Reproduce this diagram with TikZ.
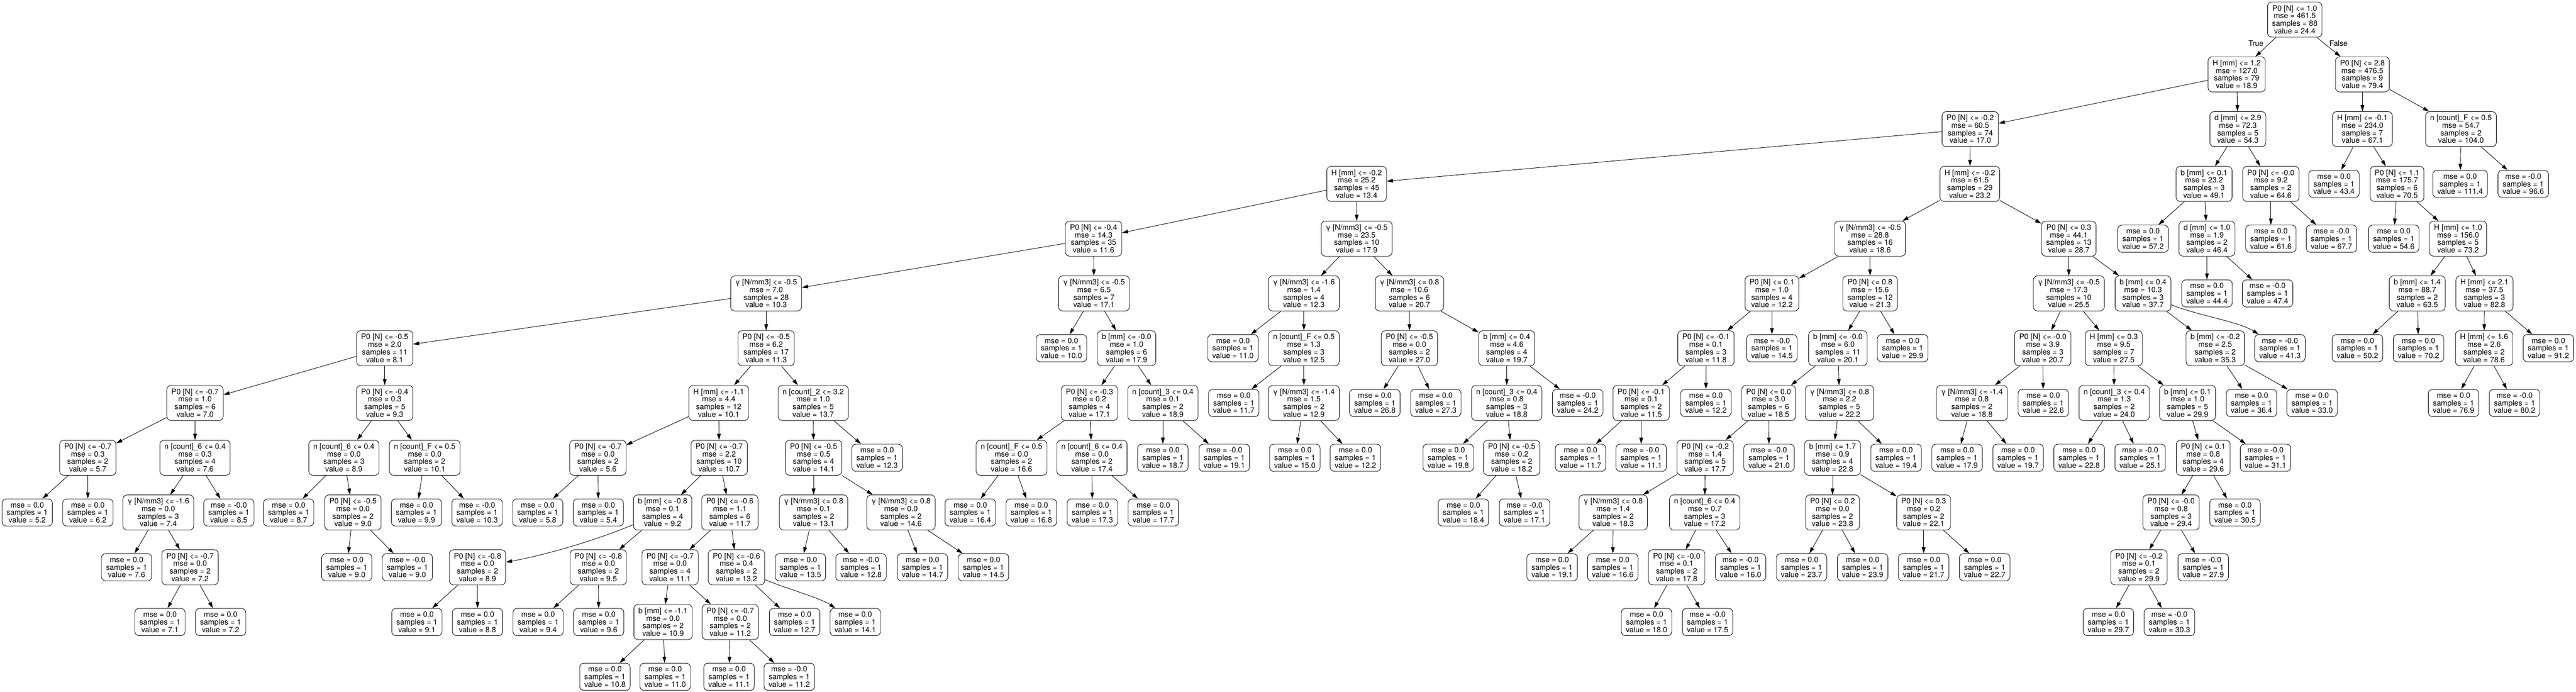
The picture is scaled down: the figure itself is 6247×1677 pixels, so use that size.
\documentclass[tikz,border=0pt]{standalone}
\usepackage{fontspec}
\setmainfont{TeX Gyre Heros}
\usetikzlibrary{arrows.meta}
\newcommand\mkint[7]{\node[intn] (#1) at (#2,#3) {#4\\mse = #5\\samples = #6\\value = #7};}
\newcommand\mkleaf[5]{\node[leafn] (#1) at (#2,#3) {mse = #4\\samples = 1\\value = #5};}
\begin{document}
\begin{tikzpicture}[x=1pt,y=-1pt,
  boxbase/.style={draw, line width=1.1pt, rounded corners=10pt, fill=white, align=center,
    inner xsep=11pt, inner ysep=0pt, font=\fontsize{18.4}{18.4}\selectfont},
  intn/.style={boxbase, minimum height=85pt},
  leafn/.style={boxbase, minimum height=66pt},
  edge/.style={-{Triangle[length=15pt,width=9pt]}, line width=1.1pt},
  lbl/.style={font=\fontsize{18.4}{18.4}\selectfont, inner sep=0pt}]
\useasboundingbox (0,0) rectangle (6247,1677);
% level 0
\mkint{n0}{5565}{47.5}{P0 [N] <= 1.0}{461.5}{88}{24.4}
% level 1
\mkint{n1}{5424}{180.3}{H [mm] <= 1.2}{127.0}{79}{18.9}
\mkint{n2}{5729}{180.3}{P0 [N] <= 2.8}{476.5}{9}{79.4}
% level 2
\mkint{n3}{4778}{313.1}{P0 [N] <= -0.2}{60.5}{74}{17.0}
\mkint{n4}{5427}{313.1}{d [mm] <= 2.9}{72.3}{5}{54.3}
\mkint{n5}{5729}{313.1}{H [mm] <= -0.1}{234.0}{7}{67.1}
\mkint{n6}{5968}{313.1}{n [count]\_F <= 0.5}{54.7}{2}{104.0}
% level 3
\mkint{a3a}{3290}{445.9}{H [mm] <= -0.2}{25.2}{45}{13.4}
\mkint{a3b}{4777}{445.9}{H [mm] <= -0.2}{61.5}{29}{23.2}
\mkint{a3c}{5345}{445.9}{b [mm] <= 0.1}{23.2}{3}{49.1}
\mkint{a3d}{5507}{445.9}{P0 [N] <= -0.0}{9.2}{2}{64.6}
\mkleaf{a3e}{5660}{445.9}{0.0}{43.4}
\mkint{a3f}{5813}{445.9}{P0 [N] <= 1.1}{175.7}{6}{70.5}
\mkleaf{a3g}{5966}{445.9}{0.0}{111.4}
\mkleaf{a3h}{6119}{445.9}{-0.0}{96.6}
% level 4
\mkint{b4a}{2652}{578.7}{P0 [N] <= -0.4}{14.3}{35}{11.6}
\mkint{b4b}{3290}{578.7}{γ [N/mm3] <= -0.5}{23.5}{10}{17.9}
\mkint{b4c}{4535}{578.7}{γ [N/mm3] <= -0.5}{28.8}{16}{18.6}
\mkint{b4d}{5017}{578.7}{P0 [N] <= 0.3}{44.1}{13}{28.7}
\mkleaf{b4e}{5197}{578.7}{0.0}{57.2}
\mkint{b4f}{5352}{578.7}{d [mm] <= 1.0}{1.9}{2}{46.4}
\mkleaf{b4g}{5507}{578.7}{0.0}{61.6}
\mkleaf{b4h}{5654}{578.7}{-0.0}{67.7}
\mkleaf{b4i}{5805}{578.7}{0.0}{54.6}
\mkint{b4j}{5961}{578.7}{H [mm] <= 1.0}{156.0}{5}{73.2}
% level 5
\mkint{c5a}{1858}{711.5}{γ [N/mm3] <= -0.5}{7.0}{28}{10.3}
\mkint{c5b}{2653}{711.5}{γ [N/mm3] <= -0.5}{6.5}{7}{17.1}
\mkint{c5c}{3162}{711.5}{γ [N/mm3] <= -1.6}{1.4}{4}{12.3}
\mkint{c5d}{3418}{711.5}{γ [N/mm3] <= 0.8}{10.6}{6}{20.7}
\mkint{c5e}{4297}{711.5}{P0 [N] <= 0.1}{1.0}{4}{12.2}
\mkint{c5f}{4535}{711.5}{P0 [N] <= 0.8}{15.6}{12}{21.3}
\mkint{c5g}{5017}{711.5}{γ [N/mm3] <= -0.5}{17.3}{10}{25.5}
\mkint{c5h}{5197}{711.5}{b [mm] <= 0.4}{10.3}{3}{37.7}
\mkleaf{c5i}{5352}{711.5}{0.0}{44.4}
\mkleaf{c5j}{5499}{711.5}{-0.0}{47.4}
\mkint{c5k}{5862}{711.5}{b [mm] <= 1.4}{88.7}{2}{63.5}
\mkint{c5l}{6025}{711.5}{H [mm] <= 2.1}{37.5}{3}{82.8}
% level 6
\mkint{d6a}{933}{844.3}{P0 [N] <= -0.5}{2.0}{11}{8.1}
\mkint{d6b}{1858}{844.3}{P0 [N] <= -0.5}{6.2}{17}{11.3}
\mkleaf{d6c}{2574}{844.3}{0.0}{10.0}
\mkint{d6d}{2732}{844.3}{b [mm] <= -0.0}{1.0}{6}{17.9}
\mkleaf{d6e}{2990}{844.3}{0.0}{11.0}
\mkint{d6f}{3162}{844.3}{n [count]\_F <= 0.5}{1.3}{3}{12.5}
\mkint{d6g}{3418}{844.3}{P0 [N] <= -0.5}{0.0}{2}{27.0}
\mkint{d6h}{3654}{844.3}{b [mm] <= 0.4}{4.6}{4}{19.7}
\mkint{d6i}{4137}{844.3}{P0 [N] <= -0.1}{0.1}{3}{11.8}
\mkleaf{d6j}{4297}{844.3}{-0.0}{14.5}
\mkint{d6k}{4457}{844.3}{b [mm] <= -0.0}{6.0}{11}{20.1}
\mkleaf{d6l}{4614}{844.3}{0.0}{29.9}
\mkint{d6m}{4954}{844.3}{P0 [N] <= -0.0}{3.9}{3}{20.7}
\mkint{d6n}{5126}{844.3}{H [mm] <= 0.3}{9.5}{7}{27.5}
\mkint{d6o}{5372}{844.3}{b [mm] <= -0.2}{2.5}{2}{35.3}
\mkleaf{d6p}{5529}{844.3}{-0.0}{41.3}
\mkleaf{d6q}{5717}{844.3}{0.0}{50.2}
\mkleaf{d6r}{5865}{844.3}{0.0}{70.2}
\mkint{d6s}{6024}{844.3}{H [mm] <= 1.6}{2.6}{2}{78.6}
\mkleaf{d6t}{6180}{844.3}{0.0}{91.2}
% level 7
\mkint{e7a}{473}{977.1}{P0 [N] <= -0.7}{1.0}{6}{7.0}
\mkint{e7b}{933}{977.1}{P0 [N] <= -0.4}{0.3}{5}{9.3}
\mkint{e7c}{1743}{977.1}{H [mm] <= -1.1}{4.4}{12}{10.1}
\mkint{e7d}{1972}{977.1}{n [count]\_2 <= 3.2}{1.0}{5}{13.7}
\mkint{e7e}{2642}{977.1}{P0 [N] <= -0.3}{0.2}{4}{17.1}
\mkint{e7f}{2820}{977.1}{n [count]\_3 <= 0.4}{0.1}{2}{18.9}
\mkleaf{e7g}{2992}{977.1}{0.0}{11.7}
\mkint{e7h}{3162}{977.1}{γ [N/mm3] <= -1.4}{1.5}{2}{12.9}
\mkleaf{e7i}{3334}{977.1}{0.0}{26.8}
\mkleaf{e7j}{3482}{977.1}{0.0}{27.3}
\mkint{e7k}{3654}{977.1}{n [count]\_3 <= 0.4}{0.8}{3}{18.8}
\mkleaf{e7l}{3826}{977.1}{-0.0}{24.2}
\mkint{e7m}{3980}{977.1}{P0 [N] <= -0.1}{0.1}{2}{11.5}
\mkleaf{e7n}{4137}{977.1}{0.0}{12.2}
\mkint{e7o}{4289}{977.1}{P0 [N] <= 0.0}{3.0}{6}{18.5}
\mkint{e7p}{4461}{977.1}{γ [N/mm3] <= 0.8}{2.2}{5}{22.2}
\mkint{e7q}{4782}{977.1}{γ [N/mm3] <= -1.4}{0.8}{2}{18.8}
\mkleaf{e7r}{4955}{977.1}{0.0}{22.6}
\mkint{e7s}{5127}{977.1}{n [count]\_3 <= 0.4}{1.3}{2}{24.0}
\mkint{e7t}{5305}{977.1}{b [mm] <= 0.1}{1.0}{5}{29.9}
\mkleaf{e7u}{5460}{977.1}{0.0}{36.4}
\mkleaf{e7v}{5607}{977.1}{0.0}{33.0}
\mkleaf{e7w}{5950}{977.1}{0.0}{76.9}
\mkleaf{e7x}{6098}{977.1}{-0.0}{80.2}
% level 8
\mkint{f8a}{213}{1109.9}{P0 [N] <= -0.7}{0.3}{2}{5.7}
\mkint{f8b}{473}{1109.9}{n [count]\_6 <= 0.4}{0.3}{4}{7.6}
\mkint{f8c}{834}{1109.9}{n [count]\_6 <= 0.4}{0.0}{3}{8.9}
\mkint{f8d}{1030}{1109.9}{n [count]\_F <= 0.5}{0.0}{2}{10.1}
\mkint{f8e}{1450}{1109.9}{P0 [N] <= -0.7}{0.0}{2}{5.6}
\mkint{f8f}{1744}{1109.9}{P0 [N] <= -0.7}{2.2}{10}{10.7}
\mkint{f8g}{1973}{1109.9}{P0 [N] <= -0.5}{0.5}{4}{14.1}
\mkleaf{f8h}{2127}{1109.9}{0.0}{12.3}
\mkint{f8i}{2453}{1109.9}{n [count]\_F <= 0.5}{0.0}{2}{16.6}
\mkint{f8j}{2648}{1109.9}{n [count]\_6 <= 0.4}{0.0}{2}{17.4}
\mkleaf{f8k}{2820}{1109.9}{0.0}{18.7}
\mkleaf{f8l}{2969}{1109.9}{-0.0}{19.1}
\mkleaf{f8m}{3140}{1109.9}{0.0}{15.0}
\mkleaf{f8n}{3287}{1109.9}{0.0}{12.2}
\mkleaf{f8o}{3512}{1109.9}{0.0}{19.8}
\mkint{f8p}{3666}{1109.9}{P0 [N] <= -0.5}{0.2}{2}{18.2}
\mkleaf{f8q}{3833}{1109.9}{0.0}{11.7}
\mkleaf{f8r}{3980}{1109.9}{-0.0}{11.1}
\mkint{f8s}{4135}{1109.9}{P0 [N] <= -0.2}{1.4}{5}{17.7}
\mkleaf{f8t}{4290}{1109.9}{-0.0}{21.0}
\mkint{f8u}{4444}{1109.9}{b [mm] <= 1.7}{0.9}{4}{22.8}
\mkleaf{f8v}{4598}{1109.9}{0.0}{19.4}
\mkleaf{f8w}{4746}{1109.9}{0.0}{17.9}
\mkleaf{f8x}{4894}{1109.9}{0.0}{19.7}
\mkleaf{f8y}{5042}{1109.9}{0.0}{22.8}
\mkleaf{f8z}{5190}{1109.9}{-0.0}{25.1}
\mkint{f8A}{5343}{1109.9}{P0 [N] <= 0.1}{0.8}{4}{29.6}
\mkleaf{f8B}{5494}{1109.9}{-0.0}{31.1}
% level 9
\mkleaf{g9a}{66}{1242.7}{0.0}{5.2}
\mkleaf{g9b}{213}{1242.7}{0.0}{6.2}
\mkint{g9c}{384}{1242.7}{γ [N/mm3] <= -1.6}{0.0}{3}{7.4}
\mkleaf{g9d}{555}{1242.7}{-0.0}{8.5}
\mkleaf{g9e}{700}{1242.7}{0.0}{8.7}
\mkint{g9f}{856}{1242.7}{P0 [N] <= -0.5}{0.0}{2}{9.0}
\mkleaf{g9g}{1010}{1242.7}{0.0}{9.9}
\mkleaf{g9h}{1157}{1242.7}{-0.0}{10.3}
\mkleaf{g9i}{1304}{1242.7}{0.0}{5.8}
\mkleaf{g9j}{1451}{1242.7}{0.0}{5.4}
\mkint{g9k}{1607}{1242.7}{b [mm] <= -0.8}{0.1}{4}{9.2}
\mkint{g9l}{1770}{1242.7}{P0 [N] <= -0.6}{1.1}{6}{11.7}
\mkint{g9m}{1973}{1242.7}{γ [N/mm3] <= 0.8}{0.1}{2}{13.1}
\mkint{g9n}{2185}{1242.7}{γ [N/mm3] <= 0.8}{0.0}{2}{14.6}
\mkleaf{g9o}{2353}{1242.7}{0.0}{16.4}
\mkleaf{g9p}{2501}{1242.7}{0.0}{16.8}
\mkleaf{g9q}{2649}{1242.7}{0.0}{17.3}
\mkleaf{g9r}{2797}{1242.7}{0.0}{17.7}
\mkleaf{g9s}{3549}{1242.7}{0.0}{18.4}
\mkleaf{g9t}{3697}{1242.7}{-0.0}{17.1}
\mkint{g9u}{3912}{1242.7}{γ [N/mm3] <= 0.8}{1.4}{2}{18.3}
\mkint{g9v}{4134}{1242.7}{n [count]\_6 <= 0.4}{0.7}{3}{17.2}
\mkint{g9w}{4444}{1242.7}{P0 [N] <= 0.2}{0.0}{2}{23.8}
\mkint{g9x}{4665}{1242.7}{P0 [N] <= 0.3}{0.2}{2}{22.1}
\mkint{g9y}{5265}{1242.7}{P0 [N] <= -0.0}{0.8}{3}{29.4}
\mkleaf{g9z}{5420}{1242.7}{0.0}{30.5}
% level 10
\mkleaf{h10a}{307}{1375.5}{0.0}{7.6}
\mkint{h10b}{461}{1375.5}{P0 [N] <= -0.7}{0.0}{2}{7.2}
\mkleaf{h10c}{841}{1375.5}{0.0}{9.0}
\mkleaf{h10d}{988}{1375.5}{-0.0}{9.0}
\mkint{h10e}{1158}{1375.5}{P0 [N] <= -0.8}{0.0}{2}{8.9}
\mkint{h10f}{1451}{1375.5}{P0 [N] <= -0.8}{0.0}{2}{9.5}
\mkint{h10g}{1625}{1375.5}{P0 [N] <= -0.7}{0.0}{4}{11.1}
\mkint{h10h}{1786}{1375.5}{P0 [N] <= -0.6}{0.4}{2}{13.2}
\mkleaf{h10i}{1941}{1375.5}{0.0}{13.5}
\mkleaf{h10j}{2088}{1375.5}{-0.0}{12.8}
\mkleaf{h10k}{2237}{1375.5}{0.0}{14.7}
\mkleaf{h10l}{2385}{1375.5}{0.0}{14.5}
\mkleaf{h10m}{3764}{1375.5}{0.0}{19.1}
\mkleaf{h10n}{3911}{1375.5}{0.0}{16.6}
\mkint{h10o}{4066}{1375.5}{P0 [N] <= -0.0}{0.1}{2}{17.8}
\mkleaf{h10p}{4221}{1375.5}{-0.0}{16.0}
\mkleaf{h10q}{4369}{1375.5}{0.0}{23.7}
\mkleaf{h10r}{4517}{1375.5}{0.0}{23.9}
\mkleaf{h10s}{4665}{1375.5}{0.0}{21.7}
\mkleaf{h10t}{4813}{1375.5}{0.0}{22.7}
\mkint{h10u}{5187}{1375.5}{P0 [N] <= -0.2}{0.1}{2}{29.9}
\mkleaf{h10v}{5343}{1375.5}{-0.0}{27.9}
% level 11
\mkleaf{i11a}{388}{1508.3}{0.0}{7.1}
\mkleaf{i11b}{535}{1508.3}{0.0}{7.2}
\mkleaf{i11c}{1011}{1508.3}{0.0}{9.1}
\mkleaf{i11d}{1158}{1508.3}{0.0}{8.8}
\mkleaf{i11e}{1305}{1508.3}{0.0}{9.4}
\mkleaf{i11f}{1452}{1508.3}{0.0}{9.6}
\mkint{i11g}{1608}{1508.3}{b [mm] <= -1.1}{0.0}{2}{10.9}
\mkint{i11h}{1771}{1508.3}{P0 [N] <= -0.7}{0.0}{2}{11.2}
\mkleaf{i11i}{1927}{1508.3}{0.0}{12.7}
\mkleaf{i11j}{2074}{1508.3}{0.0}{14.1}
\mkleaf{i11k}{3993}{1508.3}{0.0}{18.0}
\mkleaf{i11l}{4141}{1508.3}{-0.0}{17.5}
\mkleaf{i11m}{5113}{1508.3}{0.0}{29.7}
\mkleaf{i11n}{5261}{1508.3}{-0.0}{30.3}
% level 12
\mkleaf{j12a}{1467}{1641.1}{0.0}{10.8}
\mkleaf{j12b}{1613}{1641.1}{0.0}{11.0}
\mkleaf{j12c}{1768}{1641.1}{0.0}{11.1}
\mkleaf{j12d}{1914}{1641.1}{-0.0}{11.2}
% edge labels
\node[lbl] (tlab) at (5471,105) {True};
\node[lbl] (flab) at (5671,105) {False};
% edges
\foreach \p/\c in {n0/n1,n0/n2,n1/n3,n1/n4,n2/n5,n2/n6,
  n3/a3a,n3/a3b,n4/a3c,n4/a3d,n5/a3e,n5/a3f,n6/a3g,n6/a3h,
  a3a/b4a,a3a/b4b,a3b/b4c,a3b/b4d,a3c/b4e,a3c/b4f,a3d/b4g,a3d/b4h,a3f/b4i,a3f/b4j,
  b4a/c5a,b4a/c5b,b4b/c5c,b4b/c5d,b4c/c5e,b4c/c5f,b4d/c5g,b4d/c5h,b4f/c5i,b4f/c5j,b4j/c5k,b4j/c5l,
  c5a/d6a,c5a/d6b,c5b/d6c,c5b/d6d,c5c/d6e,c5c/d6f,c5d/d6g,c5d/d6h,c5e/d6i,c5e/d6j,c5f/d6k,c5f/d6l,
  c5g/d6m,c5g/d6n,c5h/d6o,c5k/d6q,c5k/d6r,c5l/d6s,c5l/d6t,
  d6a/e7a,d6a/e7b,d6b/e7c,d6b/e7d,d6d/e7e,d6d/e7f,d6f/e7g,d6f/e7h,d6g/e7i,d6g/e7j,
  d6h/e7k,d6h/e7l,d6i/e7m,d6i/e7n,d6k/e7o,d6k/e7p,d6m/e7q,d6m/e7r,d6n/e7s,d6n/e7t,
  d6o/e7u,d6o/e7v,d6s/e7w,d6s/e7x,
  e7a/f8a,e7a/f8b,e7b/f8c,e7b/f8d,e7c/f8e,e7c/f8f,e7d/f8g,e7d/f8h,e7e/f8i,e7e/f8j,
  e7f/f8k,e7f/f8l,e7h/f8m,e7h/f8n,e7k/f8o,e7k/f8p,e7m/f8q,e7m/f8r,e7o/f8s,e7o/f8t,
  e7p/f8u,e7p/f8v,e7q/f8w,e7q/f8x,e7s/f8y,e7s/f8z,e7t/f8A,e7t/f8B,
  f8a/g9a,f8a/g9b,f8b/g9c,f8b/g9d,f8c/g9e,f8c/g9f,f8d/g9g,f8d/g9h,f8e/g9i,f8e/g9j,
  f8f/g9k,f8f/g9l,f8g/g9m,f8g/g9n,f8i/g9o,f8i/g9p,f8j/g9q,f8j/g9r,f8p/g9s,f8p/g9t,
  f8s/g9u,f8s/g9v,f8u/g9w,f8u/g9x,f8A/g9y,f8A/g9z,
  g9c/h10a,g9c/h10b,g9f/h10c,g9f/h10d,g9k/h10f,g9l/h10g,g9l/h10h,
  g9m/h10i,g9m/h10j,g9n/h10k,g9n/h10l,g9u/h10m,g9u/h10n,g9v/h10o,g9v/h10p,
  g9w/h10q,g9w/h10r,g9x/h10s,g9x/h10t,g9y/h10u,g9y/h10v,
  h10b/i11a,h10b/i11b,h10e/i11c,h10e/i11d,h10f/i11e,h10f/i11f,h10g/i11g,h10g/i11h,
  h10h/i11i,h10o/i11k,h10o/i11l,h10u/i11m,h10u/i11n,
  i11g/j12a,i11g/j12b,i11h/j12c,i11h/j12d}
  \draw[edge] (\p) -- (\c);
% curved edges
\draw[edge] (g9k) .. controls (1420,1320) and (1300,1350) .. (h10e);
\draw[edge] (h10h) .. controls (1900,1425) and (1990,1450) .. (i11j);
\draw[edge] (c5h) .. controls (5330,765) and (5430,780) .. (d6p);
\end{tikzpicture}
\end{document}
